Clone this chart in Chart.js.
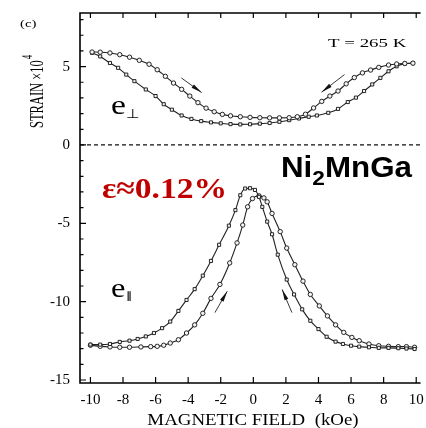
<!DOCTYPE html>
<html>
<head>
<meta charset="utf-8">
<script src="https://cdn.jsdelivr.net/npm/chart.js@4.4.1/dist/chart.umd.min.js"></script>
<style>
  html, body { margin: 0; padding: 0; background: #fff; }
</style>
</head>
<body>
<canvas id="strainChart" width="426" height="428"></canvas>
<script>
// Magnetic field (kOe) and strain (x10^-4)
const xTicks = [-10, -8, -6, -4, -2, 0, 2, 4, 6, 8, 10];
const yTicks = [-15, -10, -5, 0, 5];

// e-perpendicular, upper branch
const perpUpperH = [-9.9, -9.4, -8.8, -8.2, -7.6, -7.0, -6.4, -5.9, -5.4, -4.9, -4.4, -3.9, -3.4, -2.9, -2.4, -1.9, -1.4, -0.8, -0.2, 0.4, 1.0, 1.6, 2.2, 2.7, 3.2, 3.7, 4.2, 4.7, 5.2, 5.7, 6.2, 6.7, 7.2, 7.7, 8.3, 8.8, 9.3, 9.8];
const perpUpperS = [5.93, 5.92, 5.87, 5.76, 5.60, 5.40, 5.15, 4.80, 4.38, 3.95, 3.55, 3.12, 2.70, 2.35, 2.12, 1.95, 1.86, 1.80, 1.76, 1.74, 1.73, 1.73, 1.74, 1.80, 1.96, 2.36, 2.78, 3.12, 3.44, 3.90, 4.30, 4.60, 4.78, 4.95, 5.10, 5.17, 5.20, 5.22];

// e-perpendicular, lower branch
const perpLowerH = [-9.9, -9.4, -8.8, -8.3, -7.8, -7.3, -6.6, -6.0, -5.5, -5.0, -4.4, -3.8, -3.2, -2.6, -2.0, -1.4, -0.8, -0.2, 0.4, 1.0, 1.6, 2.2, 2.8, 3.4, 3.9, 4.6, 5.2, 5.8, 6.3, 6.8, 7.3, 7.8, 8.3, 8.8, 9.3, 9.8];
const perpLowerS = [5.88, 5.65, 5.23, 4.92, 4.49, 4.07, 3.54, 3.12, 2.60, 2.25, 1.88, 1.66, 1.52, 1.44, 1.38, 1.33, 1.31, 1.32, 1.36, 1.40, 1.48, 1.58, 1.69, 1.80, 1.88, 2.05, 2.30, 2.74, 3.02, 3.44, 3.86, 4.28, 4.70, 5.02, 5.19, 5.22];

// e-parallel, branch peaking left of zero
const parLeftH = [-10.0, -9.4, -8.8, -8.2, -7.6, -7.1, -6.6, -6.1, -5.6, -5.1, -4.6, -4.1, -3.6, -3.1, -2.6, -2.1, -1.5, -1.1, -0.8, -0.5, -0.2, 0.1, 0.35, 0.55, 0.85, 1.15, 1.5, 2.05, 2.5, 3.0, 3.5, 4.0, 4.5, 5.05, 5.5, 6.0, 6.5, 7.1, 7.7, 8.3, 8.9, 9.4, 9.9];
const parLeftS = [-12.74, -12.74, -12.70, -12.57, -12.49, -12.38, -12.22, -12.00, -11.69, -11.27, -10.59, -9.89, -9.20, -8.34, -7.40, -6.37, -5.15, -4.16, -3.21, -2.78, -2.76, -2.87, -3.31, -3.95, -4.89, -5.70, -7.00, -8.59, -9.54, -10.49, -11.22, -11.75, -12.24, -12.55, -12.70, -12.81, -12.87, -12.91, -12.95, -12.95, -12.97, -12.99, -13.02];

// e-parallel, branch peaking right of zero
const parRightH = [-10.0, -9.4, -8.8, -8.2, -7.6, -6.9, -6.3, -5.9, -5.5, -5.1, -4.6, -4.1, -3.6, -3.1, -2.6, -2.05, -1.45, -1.0, -0.65, -0.35, -0.05, 0.35, 0.65, 0.85, 1.15, 1.65, 2.05, 2.55, 3.05, 3.5, 4.05, 4.55, 5.05, 5.55, 6.05, 6.5, 7.1, 7.7, 8.3, 8.9, 9.4, 9.9];
const parRightS = [-12.78, -12.85, -12.89, -12.91, -12.91, -12.89, -12.87, -12.85, -12.78, -12.64, -12.43, -12.00, -11.48, -10.74, -9.79, -8.90, -7.53, -6.25, -5.11, -3.95, -3.42, -3.25, -3.38, -3.63, -4.37, -5.53, -6.58, -7.64, -8.69, -9.54, -10.27, -10.91, -11.48, -11.96, -12.28, -12.49, -12.70, -12.81, -12.85, -12.87, -12.87, -12.91];

// sweep-direction arrows: [fromH, fromS, toH, toS]
const arrows = [
  [-4.42, 4.28, -3.17, 3.34],
  [5.60, 4.49, 4.19, 3.37],
  [-2.36, -10.70, -1.60, -9.33],
  [2.37, -10.70, 1.77, -9.22]
];

const serif = "'Liberation Serif', 'Times New Roman', serif";
const sans = "'Liberation Sans', Arial, sans-serif";

function toPoints(hs, ss) {
  return hs.map((h, i) => ({ x: h, y: ss[i] }));
}

function curve(hs, ss, style) {
  return {
    data: toPoints(hs, ss),
    showLine: true,
    borderColor: "#222",
    borderWidth: 1.1,
    cubicInterpolationMode: "monotone",
    pointStyle: style,
    pointRadius: 2.2,
    pointBackgroundColor: "#f4f4f4",
    pointBorderColor: "#111",
    pointBorderWidth: 0.9,
  };
}

// text stretched sideways like the scanned figure
function wideText(ctx, text, x, y, font, sx, color, align) {
  ctx.save();
  ctx.font = font;
  ctx.fillStyle = color || "#000";
  ctx.textBaseline = "alphabetic";
  ctx.textAlign = "left";
  const w = ctx.measureText(text).width * sx;
  let x0 = x;
  if (align === "center") x0 = x - w / 2;
  if (align === "right") x0 = x - w;
  ctx.translate(x0, y);
  ctx.scale(sx, 1);
  ctx.fillText(text, 0, 0);
  ctx.restore();
  return w;
}

const decorPlugin = {
  id: "decor",
  beforeDatasetsDraw(chart) {
    const { ctx, chartArea: a, scales } = chart;
    const ys = scales.y;
    ctx.save();
    // dashed zero line
    const y0 = ys.getPixelForValue(0);
    ctx.strokeStyle = "#111";
    ctx.lineWidth = 1.2;
    ctx.setLineDash([4, 3]);
    ctx.beginPath();
    ctx.moveTo(a.left, y0);
    ctx.lineTo(a.right, y0);
    ctx.stroke();
    ctx.setLineDash([]);
    ctx.restore();
  },
  afterDatasetsDraw(chart) {
    const { ctx, chartArea: a, scales } = chart;
    const xs = scales.x, ys = scales.y;
    ctx.save();
    // frame
    ctx.strokeStyle = "#000";
    ctx.lineWidth = 1.6;
    ctx.beginPath();
    ctx.moveTo(a.right - 0.5, a.top);
    ctx.lineTo(a.left, a.top);
    ctx.lineTo(a.left, a.bottom);
    ctx.lineTo(a.right - 0.5, a.bottom);
    ctx.stroke();

    // inward ticks
    ctx.lineWidth = 1.2;
    ctx.beginPath();
    xTicks.forEach((v) => {
      const px = xs.getPixelForValue(v);
      ctx.moveTo(px, a.bottom);
      ctx.lineTo(px, a.bottom - 6);
      ctx.moveTo(px, a.top);
      ctx.lineTo(px, a.top + 5);
    });
    for (let v = -15; v <= 8; v++) {
      const py = ys.getPixelForValue(v);
      const len = v % 5 === 0 ? 6 : 3.5;
      ctx.moveTo(a.left, py);
      ctx.lineTo(a.left + len, py);
    }
    ctx.stroke();

    // arrows
    arrows.forEach(([h1, s1, h2, s2]) => {
      const x1 = xs.getPixelForValue(h1), y1 = ys.getPixelForValue(s1);
      const x2 = xs.getPixelForValue(h2), y2 = ys.getPixelForValue(s2);
      const ang = Math.atan2(y2 - y1, x2 - x1);
      ctx.strokeStyle = "#222";
      ctx.lineWidth = 0.9;
      ctx.beginPath();
      ctx.moveTo(x1, y1);
      ctx.lineTo(x2, y2);
      ctx.stroke();
      ctx.save();
      ctx.translate(x2, y2);
      ctx.rotate(ang);
      ctx.fillStyle = "#111";
      ctx.beginPath();
      ctx.moveTo(0, 0);
      ctx.lineTo(-11, -2);
      ctx.lineTo(-11, 2);
      ctx.closePath();
      ctx.fill();
      ctx.restore();
    });

    // labels
    wideText(ctx, "(c)", 20, 27, "11px " + serif, 1.35);
    wideText(ctx, "T = 265 K", 328, 47, "13.5px " + serif, 1.4);
    let w = wideText(ctx, "e", 111, 114, "28px " + serif, 1.2);
    wideText(ctx, "\u22A5", 111 + w, 118, "13px 'DejaVu Sans', sans-serif", 1.2);
    w = wideText(ctx, "e", 111, 297, "27px " + serif, 1.2);
    wideText(ctx, "\u2225", 112 + w, 299, "bold 10px 'DejaVu Sans', sans-serif", 1.0);

    let nx = 281;
    nx += wideText(ctx, "Ni", nx, 177, "bold 29px " + sans, 1.08);
    nx += wideText(ctx, "2", nx, 185, "bold 21px " + sans, 1.08);
    wideText(ctx, "MnGa", nx, 177, "bold 29px " + sans, 1.08);

    wideText(ctx, "\u03B5\u22480.12%", 102, 198, "bold 30px " + serif, 1.12, "#c00000");

    // axis titles
    wideText(ctx, "MAGNETIC FIELD  (kOe)", 253, 425, "16px " + serif, 1.18, "#000", "center");

    ctx.save();
    ctx.translate(43, 128);
    ctx.rotate(-Math.PI / 2);
    ctx.scale(1, 1.55);
    ctx.font = "12.5px " + serif;
    ctx.fillStyle = "#000";
    ctx.textBaseline = "alphabetic";
    const tw = ctx.measureText("STRAIN \u00D710").width;
    ctx.fillText("STRAIN \u00D710", 0, 0);
    ctx.font = "9px " + serif;
    ctx.fillText("4", tw + 1, -7);
    ctx.restore();

    ctx.restore();
  },
};

new Chart(document.getElementById("strainChart"), {
  type: "scatter",
  data: {
    datasets: [
      curve(perpUpperH, perpUpperS, "circle"),
      curve(perpLowerH, perpLowerS, "rect"),
      curve(parLeftH, parLeftS, "rect"),
      curve(parRightH, parRightS, "circle"),
    ],
  },
  options: {
    responsive: false,
    animation: false,
    devicePixelRatio: 1,
    layout: { padding: { top: 13, right: 0, left: 0, bottom: 0 } },
    plugins: { legend: { display: false }, tooltip: { enabled: false } },
    scales: {
      x: {
        type: "linear",
        min: -10.64,
        max: 10.3,
        grid: { display: false, drawTicks: false },
        border: { display: false },
        afterBuildTicks: (s) => { s.ticks = xTicks.map((v) => ({ value: v })); },
        afterFit: (s) => {
          s.height = 45;
          s.paddingLeft = 0;
          s.paddingRight = 0;
        },
        ticks: {
          padding: 8,
          color: "#000",
          font: { family: serif, size: 15 },
          maxRotation: 0,
          callback: (v) => String(v),
        },
      },
      y: {
        type: "linear",
        min: -15.19,
        max: 8.42,
        grid: { display: false, drawTicks: false },
        border: { display: false },
        afterBuildTicks: (s) => { s.ticks = yTicks.map((v) => ({ value: v })); },
        afterFit: (s) => {
          s.width = 80;
          s.paddingTop = 0;
          s.paddingBottom = 0;
        },
        ticks: {
          padding: 10,
          color: "#000",
          font: { family: serif, size: 15 },
          callback: (v) => String(v),
        },
      },
    },
  },
  plugins: [decorPlugin],
});
</script>
</body>
</html>
